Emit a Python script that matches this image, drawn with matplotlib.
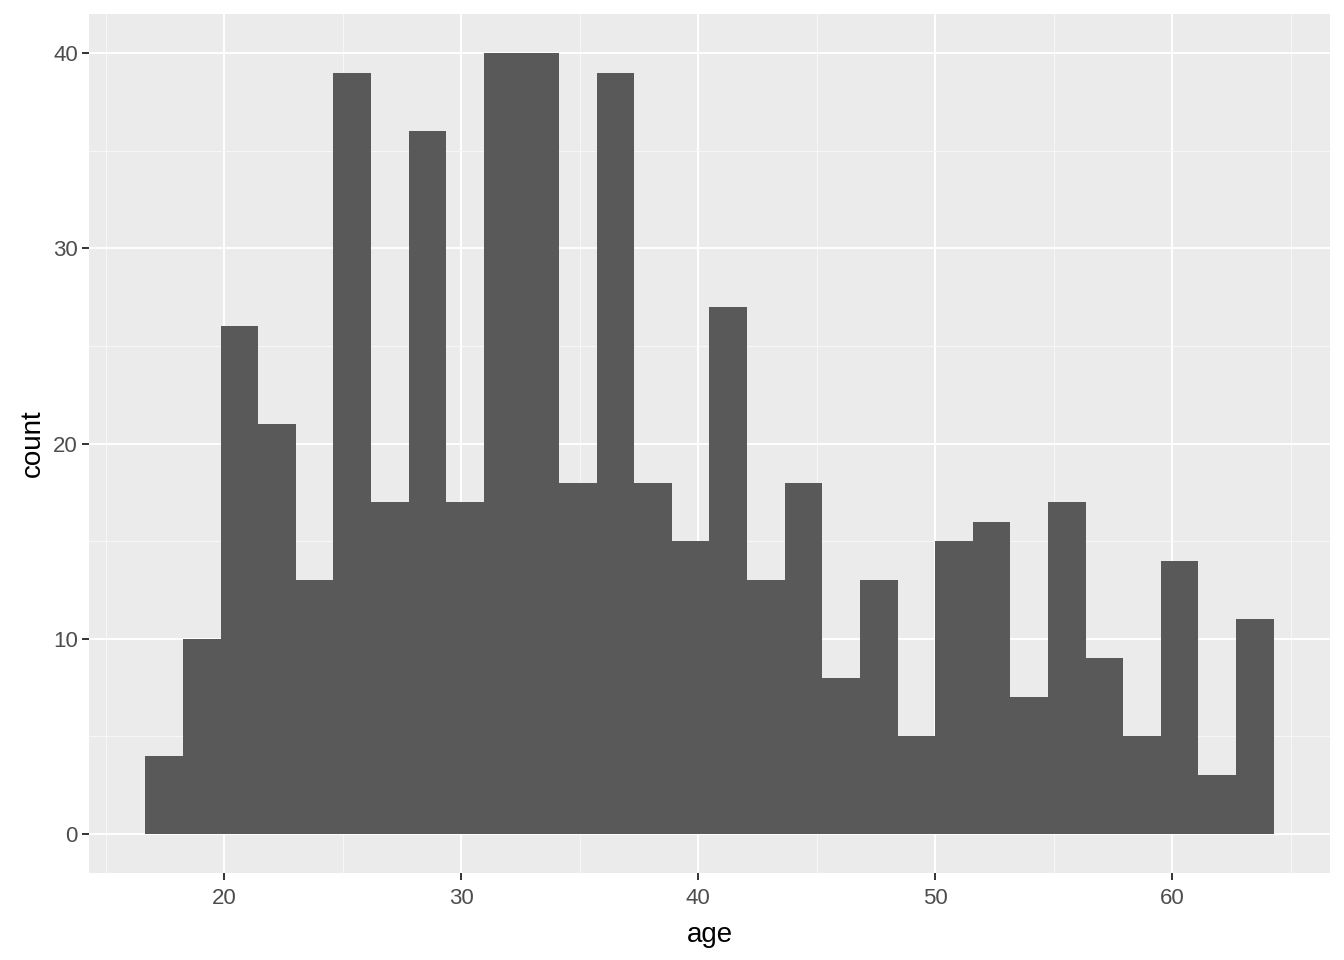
import numpy as np
import matplotlib.pyplot as plt

plt.rcParams["font.family"] = ["Liberation Sans", "DejaVu Sans"]

# histogram of age, 30 bins
counts = [4, 10, 26, 21, 13, 39, 17, 36, 17, 40,
          40, 18, 39, 18, 15, 27, 13, 18, 8, 13,
          5, 15, 16, 7, 17, 9, 5, 14, 3, 11]
bin_start = 16.67
bin_width = 1.587
x_ticks = [20, 30, 40, 50, 60]
y_ticks = [0, 10, 20, 30, 40]

edges = bin_start + bin_width * np.arange(len(counts) + 1)

fig = plt.figure(figsize=(13.44, 9.6), dpi=100)
ax = fig.add_axes([0.0662, 0.0906, 0.9234, 0.8948])
ax.set_facecolor("#EBEBEB")

ax.bar(edges[:-1], counts, width=bin_width, align="edge",
       color="#595959", linewidth=0, zorder=3)

span = edges[-1] - edges[0]
ax.set_xlim(edges[0] - 0.05 * span, edges[-1] + 0.05 * span)
ax.set_ylim(-0.05 * max(counts), max(counts) * 1.05)

ax.set_xticks(x_ticks)
ax.set_yticks(y_ticks)
ax.set_xticks([15, 25, 35, 45, 55, 65], minor=True)
ax.set_yticks([5, 15, 25, 35], minor=True)

ax.grid(which="major", color="white", linewidth=1.4, zorder=0)
ax.grid(which="minor", color="#F7F7F7", linewidth=0.7, zorder=0)
ax.set_axisbelow(True)

for s in ax.spines.values():
    s.set_visible(False)

ax.tick_params(which="major", length=5, width=1.4, color="#333333",
               labelsize=16, labelcolor="#4D4D4D", pad=3)
ax.tick_params(axis="x", which="major", pad=6)
ax.tick_params(which="minor", length=0)

ax.set_xlabel("age", fontsize=20, color="black", labelpad=9)
ax.set_ylabel("count", fontsize=20, color="black", labelpad=5)

fig.savefig("out.png", dpi=100)
